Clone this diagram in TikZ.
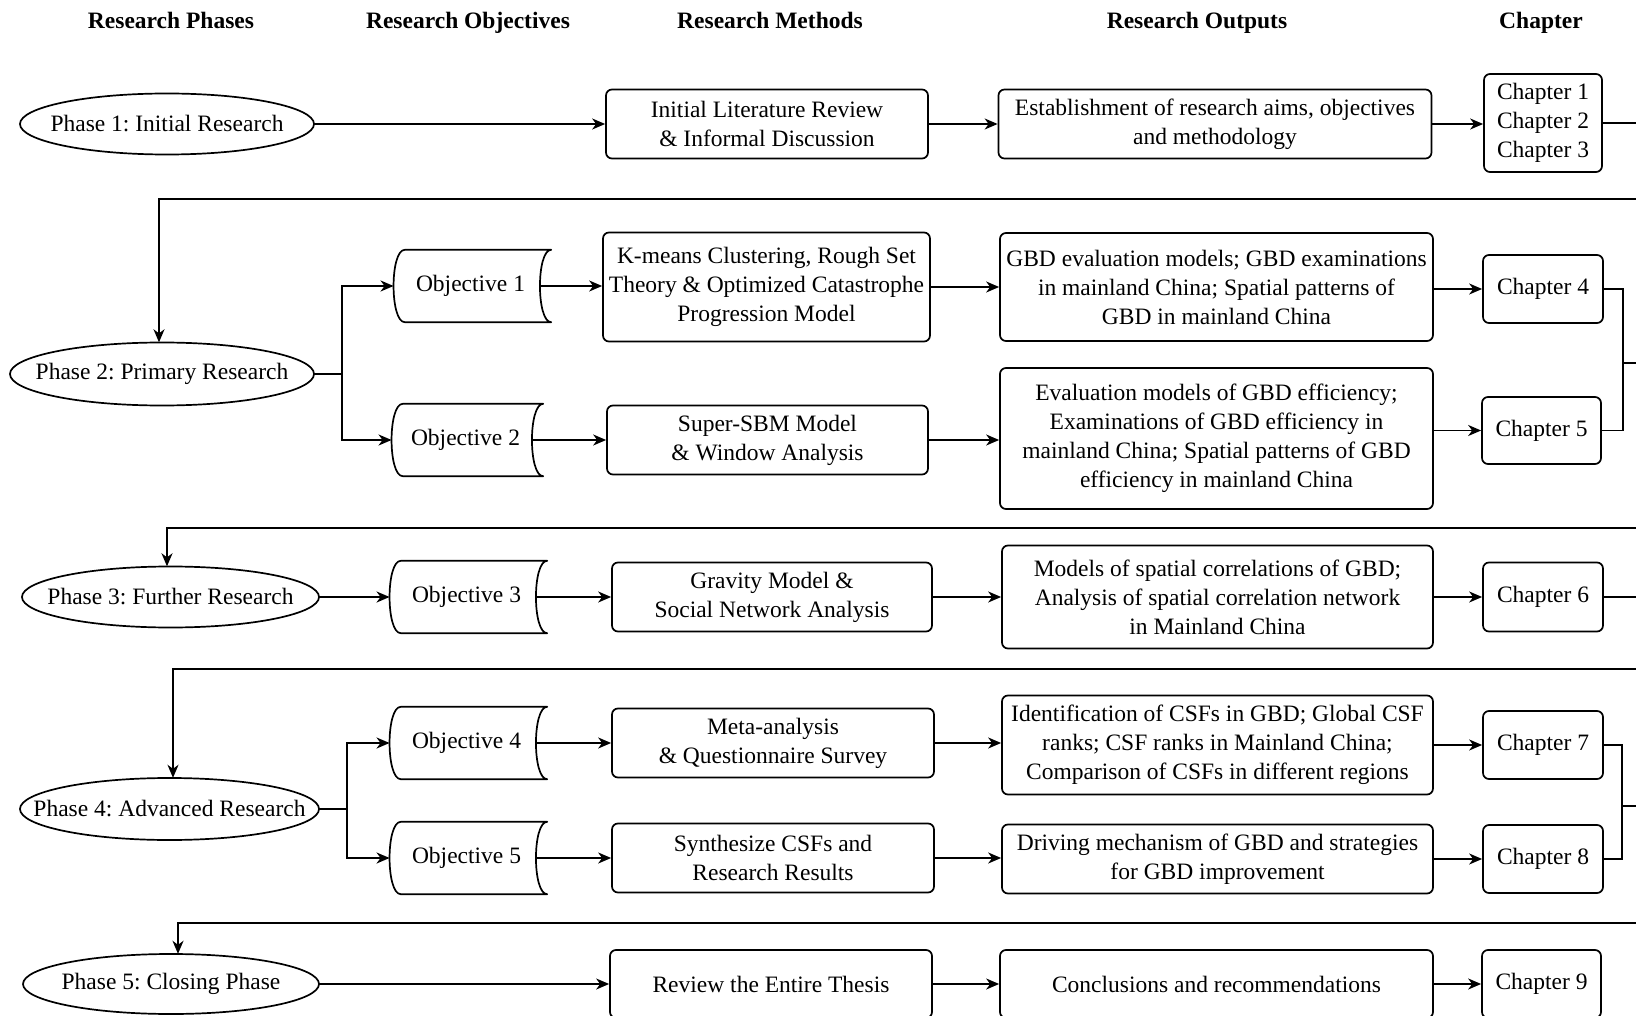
\documentclass[tikz,border=0pt]{standalone}
\usepackage{fontspec}
\setmainfont{Liberation Serif}
\usetikzlibrary{arrows.meta}
\frenchspacing

% outline of an objective node: straight top and bottom, both sides bowed to the left
\newcommand{\drawobjective}[1]{%
  \draw[link, line join=round]
    ([xshift=15pt]#1.north west) -- (#1.north east)
    .. controls ([xshift=-15pt]#1.north east) and ([xshift=-15pt]#1.south east) .. (#1.south east)
    -- ([xshift=15pt]#1.south west)
    .. controls (#1.south west) and (#1.north west) .. ([xshift=15pt]#1.north west) -- cycle;}

% phase node: text on a box of the given size, outlined by the inscribed ellipse
% #1 name, #2 x, #3 y, #4 width, #5 height, #6 text
\newcommand{\phasenode}[6]{%
  \node[minimum width=#4pt, minimum height=#5pt] (#1) at (#2,#3) {#6};
  \draw[link] (#1.center) ellipse [x radius=#4pt/2, y radius=#5pt/2];}

\begin{document}
\begin{tikzpicture}[x=1pt,y=-1pt,
  every node/.style={font=\fontsize{23.5}{29}\selectfont, inner sep=0pt, align=center},
  head/.style={font=\fontsize{23.5}{29}\selectfont\bfseries, anchor=base},
  link/.style={line width=1.7pt},
  arr/.style={link, -{Stealth[length=13pt,width=11pt,inset=4pt]}},
  box/.style={draw, line width=1.7pt, rounded corners=6pt},
  objnode/.style={minimum height=72pt},
  method/.style={box, minimum width=322pt},
  output/.style={box, minimum width=433pt},
  chapter/.style={box, minimum width=119pt, minimum height=68pt}
]
\useasboundingbox (0,0) rectangle (1636,1016);

% column headings
\node[head] (h1) at (171,29) {Research Phases};
\node[head] (h2) at (468,29) {Research Objectives};
\node[head] (h3) at (770,29) {Research Methods};
\node[head] (h4) at (1197,29) {Research Outputs};
\node[head] (h5) at (1541,29) {Chapter};

% ---------- Phase 1 ----------
\phasenode{p1}{167}{124}{294}{61}{Phase 1: Initial Research}
\node[method, minimum height=69pt] (m1) at (767,124) {Initial Literature Review\\\& Informal Discussion};
\node[output, minimum height=69pt] (o1) at (1215,124) {Establishment of research aims, objectives\\and methodology};
\node[chapter, minimum width=118pt, minimum height=98pt] (c1) at (1543,123) {Chapter 1\\Chapter 2\\Chapter 3};
\draw[arr] (p1.east) -- (m1.west);
\draw[arr] (m1.east) -- (o1.west);
\draw[arr] (o1.east) -- (o1.east -| c1.west);

% ---------- Phase 2 ----------
\phasenode{p2}{162}{374}{304}{63}{Phase 2: Primary Research}
\node[objnode, minimum width=161pt] (ob1) at (470.5,286) {Objective 1};
\node[objnode, minimum width=155pt] (ob2) at (465.5,440) {Objective 2};
\drawobjective{ob1}
\drawobjective{ob2}
\node[method, minimum width=327pt, minimum height=109pt] (m2a) at (766.5,287) {K-means Clustering, Rough Set\\Theory \& Optimized Catastrophe\\Progression Model};
\node[method, minimum width=321pt, minimum height=69pt] (m2b) at (767.5,440) {Super-SBM Model\\\& Window Analysis};
\node[output, minimum height=108pt] (o2a) at (1216.5,287) {GBD evaluation models; GBD examinations\\in mainland China; Spatial patterns of\\GBD in mainland China};
\node[output, minimum height=141pt] (o2b) at (1216.5,438.5) {Evaluation models of GBD efficiency;\\Examinations of GBD efficiency in\\mainland China; Spatial patterns of GBD\\efficiency in mainland China};
\node[chapter, minimum width=120pt] (c4) at (1543,289) {Chapter 4};
\node[chapter, minimum height=67pt] (c5) at (1541.5,430.5) {Chapter 5};

\coordinate (b2) at (342,374);
\draw[link] (p2.east) -- (b2);
\draw[arr] (b2) |- ([xshift=3.75pt]ob1.west);
\draw[arr] (b2) |- ([xshift=3.75pt]ob2.west);
\draw[arr] ([xshift=-11.25pt]ob1.east) -- (ob1.east -| m2a.west);
\draw[arr] ([xshift=-11.25pt]ob2.east) -- (ob2.east -| m2b.west);
\draw[arr] (m2a.east) -- (m2a.east -| o2a.west);
\draw[arr] (m2b.east) -- (m2b.east -| o2b.west);
\draw[arr] (c4.west -| o2a.east) -- (c4.west);
\draw[arr] (c5.west -| o2b.east) -- (c5.west);

% ---------- Phase 3 ----------
\phasenode{p3}{170.5}{597}{297}{61}{Phase 3: Further Research}
\node[objnode, minimum width=161pt] (ob3) at (466.5,597) {Objective 3};
\drawobjective{ob3}
\node[method, minimum width=320pt, minimum height=69pt] (m3) at (772,597) {Gravity Model \&\\Social Network Analysis};
\node[output, minimum width=431pt, minimum height=103pt] (o3) at (1217.5,597) {Models of spatial correlations of GBD;\\Analysis of spatial correlation network\\in Mainland China};
\node[chapter, minimum width=120pt, minimum height=69pt] (c6) at (1543,597) {Chapter 6};
\draw[arr] (p3.east) -- ([xshift=3.75pt]ob3.west);
\draw[arr] ([xshift=-11.25pt]ob3.east) -- (m3.west);
\draw[arr] (m3.east) -- (o3.west);
\draw[arr] (o3.east) -- (c6.west);

% ---------- Phase 4 ----------
\phasenode{p4}{169.5}{809}{299}{62}{Phase 4: Advanced Research}
\node[objnode, minimum width=161pt] (ob4) at (466.5,743) {Objective 4};
\node[objnode, minimum width=161pt] (ob5) at (466.5,858) {Objective 5};
\drawobjective{ob4}
\drawobjective{ob5}
\node[method, minimum height=69pt] (m4) at (773,743) {Meta-analysis\\\& Questionnaire Survey};
\node[method, minimum height=69pt] (m5) at (773,858) {Synthesize CSFs and\\Research Results};
\node[output, minimum width=431pt, minimum height=99pt] (o4) at (1217.5,745) {Identification of CSFs in GBD; Global CSF\\ranks; CSF ranks in Mainland China;\\Comparison of CSFs in different regions};
\node[output, minimum width=431pt, minimum height=69pt] (o5) at (1217.5,859) {Driving mechanism of GBD and strategies\\for GBD improvement};
\node[chapter, minimum width=120pt] (c7) at (1543,745) {Chapter 7};
\node[chapter, minimum width=120pt] (c8) at (1543,859) {Chapter 8};

\coordinate (b4) at (347,809);
\draw[link] (p4.east) -- (b4);
\draw[arr] (b4) |- ([xshift=3.75pt]ob4.west);
\draw[arr] (b4) |- ([xshift=3.75pt]ob5.west);
\draw[arr] ([xshift=-11.25pt]ob4.east) -- (ob4.east -| m4.west);
\draw[arr] ([xshift=-11.25pt]ob5.east) -- (ob5.east -| m5.west);
\draw[arr] (m4.east) -- (m4.east -| o4.west);
\draw[arr] (m5.east) -- (m5.east -| o5.west);
\draw[arr] (c7.west -| o4.east) -- (c7.west);
\draw[arr] (c8.west -| o5.east) -- (c8.west);

% ---------- Phase 5 ----------
\phasenode{p5}{171}{984}{296}{60}{Phase 5: Closing Phase}
\node[method, minimum height=68pt] (m6) at (771,984) {Review the Entire Thesis};
\node[output, minimum height=68pt] (o6) at (1216.5,984) {Conclusions and recommendations};
\node[chapter] (c9) at (1541.5,984) {Chapter 9};
\draw[arr] (p5.east) -- (m6.west);
\draw[arr] (m6.east) -- (o6.west);
\draw[arr] (o6.east) -- (c9.west);

% ---------- links from each chapter group back to the next phase ----------
\coordinate (e1) at (1660,199);
\coordinate (e2) at (1660,528);
\coordinate (e3) at (1660,669);
\coordinate (e4) at (1660,923);
\coordinate (j2) at (1623,363);
\coordinate (j4) at (1622,806);
\coordinate (t2) at ([xshift=-3pt]p2.north);
\coordinate (t3) at ([xshift=-3.5pt]p3.north);
\coordinate (t4) at ([xshift=3.5pt]p4.north);
\coordinate (t5) at ([xshift=7pt]p5.north);

\draw[arr] (c1.east) -| (e1) -- (e1 -| t2) -- (t2);

\draw[link] (c4.east) -| (j2) |- (c5.east);
\draw[arr] (j2) -| (e2) -- (e2 -| t3) -- (t3);

\draw[arr] (c6.east) -| (e3) -- (e3 -| t4) -- (t4);

\draw[link] (c7.east) -| (j4) |- (c8.east);
\draw[arr] (j4) -| (e4) -- (e4 -| t5) -- (t5);
\end{tikzpicture}
\end{document}
